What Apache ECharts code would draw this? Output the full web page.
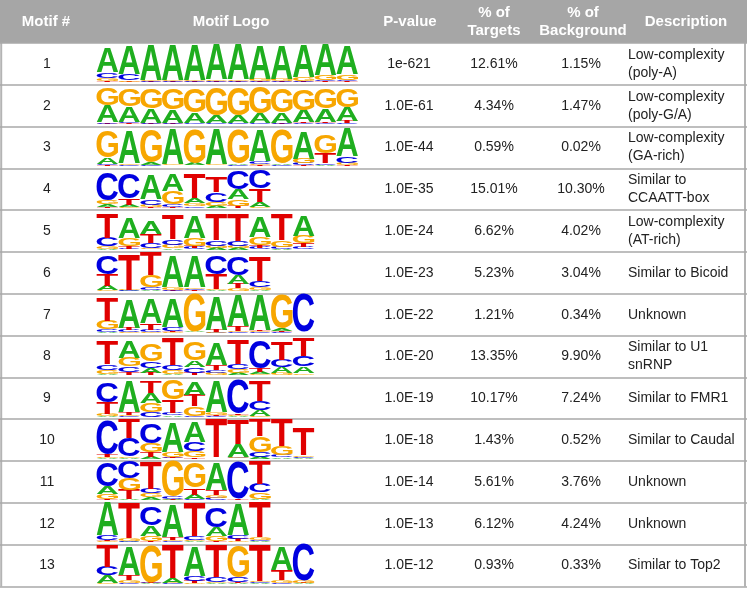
<!DOCTYPE html>
<html><head><meta charset="utf-8">
<script src="https://cdn.jsdelivr.net/npm/echarts@6.0.0/dist/echarts.min.js"></script>
<style>html,body{margin:0;padding:0;background:#fff}#c{width:747px;height:589px}</style>
</head><body><div id="c"></div>
<script>
// ---------------- DATA ----------------
const motifIds = ['1','2','3','4','5','6','7','8','9','10','11','12','13'];
const pValues = ['1e-621','1.0E-61','1.0E-44','1.0E-35','1.0E-24','1.0E-23','1.0E-22','1.0E-20','1.0E-19','1.0E-18','1.0E-14','1.0E-13','1.0E-12'];
const targetPct = ['12.61%','4.34%','0.59%','15.01%','6.62%','5.23%','1.21%','13.35%','10.17%','1.43%','5.61%','6.12%','0.93%'];
const backgroundPct = ['1.15%','1.47%','0.02%','10.30%','4.02%','3.04%','0.34%','9.90%','7.24%','0.52%','3.76%','4.24%','0.33%'];
const descriptions = ['Low-complexity\n(poly-A)','Low-complexity\n(poly-G/A)','Low-complexity\n(GA-rich)','Similar to\nCCAATT-box','Low-complexity\n(AT-rich)','Similar to Bicoid','Unknown','Similar to U1\nsnRNP','Similar to FMR1','Similar to Caudal','Unknown','Unknown','Similar to Top2'];
const headers = ['Motif #','Motif Logo','P-value','% of\nTargets','% of\nBackground','Description'];
const bases = ['A','C','G','T'];
// information (bits) per position, order [A, C, G, T]
const logo1 = [[1.25,0.28,0.15,0.08],[1.45,0.35,0.06,0.03],[1.8,0.05,0.05,0.03],[1.82,0.05,0.06,0.03],[1.82,0.04,0.07,0.03],[1.8,0.05,0.07,0.03],[1.8,0.04,0.08,0.03],[1.78,0.05,0.1,0.03],[1.75,0.04,0.12,0.03],[1.7,0.05,0.18,0.04],[1.62,0.06,0.25,0.05],[1.45,0.08,0.28,0.06]];
const logo2 = [[0.85,0.08,0.9,0.03],[0.82,0.06,0.85,0.04],[0.75,0.04,1.0,0.03],[0.68,0.04,1.1,0.03],[0.55,0.03,1.25,0.02],[0.4,0.03,1.45,0.02],[0.42,0.03,1.45,0.02],[0.5,0.03,1.35,0.02],[0.55,0.04,1.25,0.03],[0.65,0.04,1.1,0.05],[0.68,0.05,1.05,0.08],[0.72,0.06,0.95,0.1]];
const logo3 = [[0.35,0.08,1.35,0.03],[1.7,0.05,0.08,0.02],[0.12,0.03,1.7,0.02],[1.8,0.02,0.06,0.02],[0.1,0.02,1.75,0.02],[1.8,0.02,0.05,0.02],[0.06,0.03,1.8,0.02],[1.6,0.15,0.05,0.03],[0.08,0.03,1.75,0.02],[1.4,0.1,0.25,0.03],[0.05,0.08,0.95,0.55],[1.45,0.35,0.12,0.03]];
const logo4 = [[0.15,1.4,0.22,0.03],[0.1,1.3,0.05,0.35],[1.3,0.3,0.1,0.05],[0.85,0.15,0.65,0.05],[0.25,0.08,0.15,1.3],[0.1,0.5,0.2,0.8],[0.5,0.95,0.35,0.1],[0.25,0.95,0.05,0.7]];
const logo5 = [[0.05,0.45,0.1,1.3],[1.1,0.05,0.4,0.15],[0.7,0.3,0.05,0.45],[0.05,0.3,0.2,1.25],[1.15,0.1,0.4,0.1],[0.1,0.3,0.1,1.35],[0.1,0.25,0.1,1.4],[1.1,0.1,0.4,0.15],[0.05,0.1,0.35,1.35],[1.05,0.12,0.4,0.2]];
const logo6 = [[0.25,0.95,0.05,0.6],[0.03,0.03,0.03,1.8],[0.08,0.15,0.6,1.2],[1.6,0.05,0.15,0.03],[1.6,0.08,0.08,0.05],[0.05,0.95,0.05,0.8],[0.45,0.95,0.15,0.25],[0.05,0.35,0.15,1.3]];
const logo7 = [[0.05,0.15,0.45,1.2],[1.5,0.1,0.05,0.12],[1.3,0.1,0.05,0.35],[1.5,0.2,0.05,0.05],[0.03,0.02,1.95,0.02],[1.75,0.03,0.05,0.1],[1.6,0.05,0.05,0.25],[1.8,0.05,0.05,0.05],[0.12,0.05,1.75,0.05],[0.02,1.95,0.02,0.02]];
const logo8 = [[0.05,0.3,0.2,1.2],[0.85,0.3,0.45,0.15],[0.25,0.35,0.9,0.1],[0.05,0.25,0.2,1.4],[0.35,0.3,0.95,0.1],[1.15,0.15,0.1,0.25],[0.1,0.25,0.2,1.3],[0.1,1.4,0.05,0.2],[0.3,0.4,0.1,0.95],[0.35,0.55,0.08,0.95]];
const logo9 = [[0.05,1.0,0.1,0.6],[1.6,0.05,0.05,0.15],[0.55,0.25,0.45,0.6],[0.08,0.1,1.0,0.7],[0.7,0.05,0.5,0.6],[1.6,0.05,0.15,0.05],[0.05,1.8,0.05,0.05],[0.3,0.45,0.05,1.1]];
const logo10 = [[0.03,1.75,0.03,0.15],[0.05,0.95,0.05,1.0],[0.1,1.05,0.45,0.25],[1.55,0.05,0.25,0.05],[1.05,0.45,0.35,0.05],[0.02,0.02,0.02,2.0],[0.7,0.03,0.03,1.3],[0.1,0.25,0.8,0.85],[0.05,0.15,0.45,1.4],[0.03,0.05,0.08,1.4]];
const logo11 = [[0.38,1.2,0.3,0.05],[0.05,0.85,0.6,0.5],[0.15,0.25,0.2,1.4],[0.05,0.1,1.85,0.03],[0.25,0.05,1.3,0.35],[1.4,0.12,0.15,0.25],[0.02,1.9,0.02,0.05],[0.05,0.45,0.35,1.2]];
const logo12 = [[1.75,0.25,0.05,0.05],[0.03,0.05,0.12,1.8],[0.55,0.95,0.25,0.05],[1.65,0.05,0.05,0.15],[0.05,0.2,0.05,1.75],[0.45,1.05,0.25,0.05],[1.6,0.2,0.05,0.1],[0.05,0.05,0.15,1.8]];
const logo13 = [[0.4,0.45,0.05,1.15],[1.5,0.05,0.15,0.25],[0.03,0.03,1.9,0.03],[0.25,0.03,0.03,1.75],[1.55,0.25,0.05,0.1],[0.05,0.25,0.05,1.65],[0.05,0.25,1.65,0.05],[0.05,0.05,0.05,1.9],[1.2,0.05,0.15,0.5],[0.03,1.9,0.12,0.03]];
const logos = [logo1,logo2,logo3,logo4,logo5,logo6,logo7,logo8,logo9,logo10,logo11,logo12,logo13];

// ---------------- LAYOUT / STYLE ----------------
const W = 747, HEADER_H = 43, ROW_H = 41.8;
const FONT = '"Liberation Sans", Arial, Helvetica, sans-serif';
const LOGO_LEFT = 96.5, POS_W = 21.8, MAX_POS = 12, LOGO_H = 38.5, MAX_BITS = 2;
const COLORS = {A:'#1fae1f', C:'#0000e0', G:'#f7a600', T:'#e00000'};
const COL_MOTIF = 47, COL_P = 409, COL_T = 494, COL_B = 581, COL_D = 628;
const HEAD_X = [46, 231, 410, 494, 583, 686];
const LINE_COLOR = '#a9a9a9';

// glyph metrics for stretching letters into their boxes
const mc = document.createElement('canvas').getContext('2d');
mc.font = 'bold 100px ' + FONT; mc.textBaseline = 'middle'; mc.textAlign = 'center';
const metrics = {};
bases.forEach(b => { const m = mc.measureText(b); metrics[b] = {l:m.actualBoundingBoxLeft, r:m.actualBoundingBoxRight, a:m.actualBoundingBoxAscent, d:m.actualBoundingBoxDescent}; });

function stackLogo(logo){
  const out = [];
  logo.forEach((col, p) => {
    const order = [0,1,2,3].sort((a,b) => col[a] - col[b]);
    let acc = 0;
    order.forEach(bi => { out.push([p, bi, acc, acc + col[bi]]); acc += col[bi]; });
  });
  return out;
}

const grids = [{left:0, top:HEADER_H, width:W, height:ROW_H*motifIds.length}];
const xAxes = [{type:'value', gridIndex:0, min:0, max:W, show:false}];
const yAxes = [{type:'category', gridIndex:0, data:motifIds, inverse:true,
  axisLine:{show:false}, axisTick:{show:false},
  axisLabel:{inside:true, margin:COL_MOTIF, align:'center', interval:0, fontSize:14, color:'#222', fontFamily:FONT},
  splitLine:{show:true, interval:0, lineStyle:{color:LINE_COLOR, width:1.5}}}];
const series = [];

series.push({
  type:'custom', xAxisIndex:0, yAxisIndex:0, silent:true,
  data: motifIds.map((_, i) => [0, i]),
  encode:{x:0, y:1},
  renderItem(params, api){
    const i = api.value(1);
    const y = api.coord([0, i])[1];
    const txt = (s, x, align) => ({type:'text', style:{text:s, x:x, y:y, fill:'#222', fontSize:14, fontFamily:FONT, lineHeight:18, align:align, verticalAlign:'middle'}});
    return {type:'group', children:[
      txt(pValues[i], COL_P, 'center'),
      txt(targetPct[i], COL_T, 'center'),
      txt(backgroundPct[i], COL_B, 'center'),
      txt(descriptions[i], COL_D, 'left')
    ]};
  }
});

logos.forEach((logo, i) => {
  const k = i + 1;
  grids.push({left:LOGO_LEFT, top:HEADER_H + i*ROW_H + ROW_H - 2.5 - LOGO_H, width:POS_W*MAX_POS, height:LOGO_H});
  xAxes.push({type:'value', gridIndex:k, min:0, max:MAX_POS, show:false});
  yAxes.push({type:'value', gridIndex:k, min:0, max:MAX_BITS, show:false});
  series.push({
    type:'custom', xAxisIndex:k, yAxisIndex:k, silent:true,
    data: stackLogo(logo), encode:{x:0, y:[2,3]},
    renderItem(params, api){
      const p = api.value(0), bi = api.value(1), y0 = api.value(2), y1 = api.value(3);
      const a = api.coord([p, y1]), b = api.coord([p + 1, y0]);
      const w = b[0] - a[0] - 0.2, h = b[1] - a[1];
      if (h < 0.25) return null;
      const base = bases[bi], m = metrics[base];
      const sx = w / (m.l + m.r), sy = h / (m.a + m.d);
      return {type:'text', x:a[0] + 0.1 + sx*m.l, y:a[1] + sy*m.a, scaleX:sx, scaleY:sy,
        style:{text:base, x:0, y:0, fill:COLORS[base], fontSize:100, fontWeight:'bold', fontFamily:FONT, align:'center', verticalAlign:'middle'}};
    }
  });
});

const graphic = [
  {type:'rect', shape:{x:0, y:0, width:W, height:HEADER_H}, style:{fill:'#a6a6a6'}, z:0},
  {type:'line', shape:{x1:1.2, y1:HEADER_H, x2:1.2, y2:HEADER_H + ROW_H*13}, style:{stroke:'#b4b4b4', lineWidth:2}},
  {type:'line', shape:{x1:745, y1:HEADER_H, x2:745, y2:HEADER_H + ROW_H*13}, style:{stroke:'#b4b4b4', lineWidth:2}}
];
headers.forEach((h, j) => graphic.push({type:'text', x:HEAD_X[j], y:HEADER_H/2 + 0.5, style:{text:h, fill:'#fff', fontSize:15, fontWeight:'bold', fontFamily:FONT, lineHeight:18, align:'center', verticalAlign:'middle'}, z:10}));

const chart = echarts.init(document.getElementById('c'));
chart.setOption({animation:false, backgroundColor:'#fff', grid:grids, xAxis:xAxes, yAxis:yAxes, series:series, graphic:graphic});
</script></body></html>
